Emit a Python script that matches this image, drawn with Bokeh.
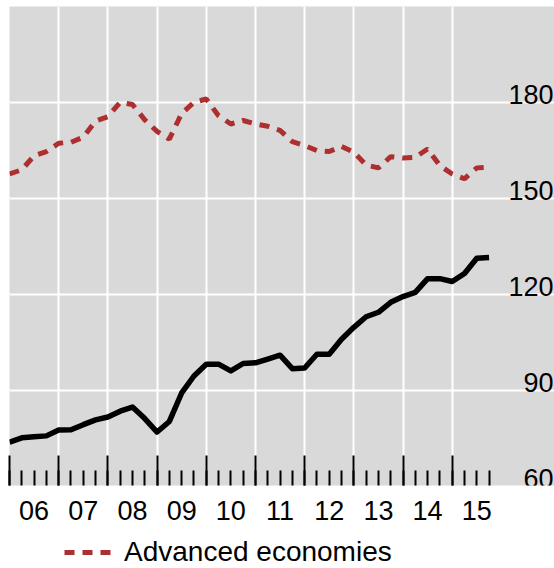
from bokeh.plotting import figure
from bokeh.layouts import column
from bokeh.models import FixedTicker, LinearAxis, Grid, Legend, LegendItem
from bokeh.embed import file_html
from bokeh.resources import INLINE
from bokeh.core.properties import value

# ---- data ----
years = [2006, 2007, 2008, 2009, 2010, 2011, 2012, 2013, 2014, 2015]
year_labels = ["06", "07", "08", "09", "10", "11", "12", "13", "14", "15"]
quarter_offsets = [0.0, 0.25, 0.5, 0.75]
dates = [y + q for y in years for q in quarter_offsets]

emerging = [73.8, 75.2, 75.5, 75.8,
            77.6, 77.7, 79.3, 80.8,
            81.7, 83.5, 84.8, 81.2,
            77.0, 80.3, 89.2, 94.5,
            98.2, 98.2, 96.1, 98.4,
            98.6, 99.8, 101.0, 96.8,
            97.0, 101.3, 101.3, 106.0,
            109.7, 113.0, 114.4, 117.5,
            119.3, 120.6, 124.9, 124.9,
            124.0, 126.5, 131.3, 131.5]

advanced = [157.6, 158.9, 163.3, 164.6,
            167.2, 167.5, 169.1, 174.1,
            175.5, 180.0, 179.3, 174.5,
            170.9, 168.5, 176.5, 180.0,
            181.0, 175.8, 173.2, 174.3,
            173.2, 172.5, 171.2, 167.7,
            166.5, 164.9, 164.6, 166.2,
            164.4, 160.4, 159.5, 163.0,
            162.6, 162.8, 165.4, 160.2,
            157.6, 156.1, 159.5, 159.7]

y_ticks = [60, 90, 120, 150, 180]
y_tick_labels = ["60", "90", "120", "150", "180"]
legend_label = "Advanced economies"

# ---- layout ----
X_START, X_END = 2006.0, 2017.08
Y_START, Y_END = 60.3, 209.9
FONT = "Liberation Sans"
RED = "#AE2F2F"
GRAY = "#D9D9D9"
RED_STYLE = dict(line_color=RED, line_width=5, line_dash="10 8")

p = figure(frame_width=545, frame_height=479,
           x_range=(X_START, X_END), y_range=(Y_START, Y_END),
           output_backend="svg", toolbar_location=None,
           x_axis_location=None, y_axis_location=None,
           min_border_left=9, min_border_right=0, min_border_top=6,
           min_border_bottom=50,
           background_fill_color=GRAY, border_fill_color="white",
           outline_line_color=None)
p.grid.grid_line_color = None  # drop default grids

# grids
xgrid = Grid(dimension=0, ticker=FixedTicker(ticks=years[1:]),
             grid_line_color="white", grid_line_width=2)
ygrid = Grid(dimension=1, ticker=FixedTicker(ticks=y_ticks[1:]),
             grid_line_color="white", grid_line_width=2)
p.add_layout(xgrid)
p.add_layout(ygrid)

# tick axis (ticks drawn inside the frame, no labels)
tick_axis = LinearAxis(ticker=FixedTicker(ticks=years, minor_ticks=dates),
                       major_tick_in=30, major_tick_out=0,
                       minor_tick_in=15, minor_tick_out=0,
                       major_tick_line_color="black", minor_tick_line_color="black",
                       major_tick_line_width=2, minor_tick_line_width=2,
                       axis_line_color=None,
                       major_label_text_color=None,
                       major_label_text_font_size="1px", major_label_standoff=0)
p.add_layout(tick_axis, "below")

# label axis (year labels centred in each year)
mid_years = [y + 0.5 for y in years]
label_axis = LinearAxis(ticker=FixedTicker(ticks=mid_years, minor_ticks=[]),
                        major_label_overrides={m: lab for m, lab in zip(mid_years, year_labels)},
                        major_tick_in=0, major_tick_out=0,
                        minor_tick_in=0, minor_tick_out=0,
                        axis_line_color=None,
                        major_label_text_font=FONT,
                        major_label_text_font_size="27px",
                        major_label_text_color="black",
                        major_label_standoff=15)
p.add_layout(label_axis, "below")

# series
p.line(dates, emerging, line_color="black", line_width=5.5, line_join="round")
p.line(dates, advanced, **RED_STYLE)

# value labels at the right, above the gridlines
p.text(x=[X_END] * len(y_ticks), y=y_ticks, text=y_tick_labels,
       text_align="right", text_baseline="alphabetic",
       x_offset=-1, y_offset=-8,
       text_font=value(FONT), text_font_size="27px", text_color="black")

# legend strip below the chart (series drawn out of view, only its key shows)
lf = figure(width=554, height=33, x_range=(0, 1), y_range=(0, 1),
            output_backend="svg", toolbar_location=None,
            x_axis_location=None, y_axis_location=None,
            min_border=0, outline_line_color=None,
            background_fill_color="white", border_fill_color="white")
lf.grid.grid_line_color = None
proxy = lf.line(dates, advanced, **RED_STYLE)
legend = Legend(items=[LegendItem(label=legend_label, renderers=[proxy])],
                location=(55, 0), padding=0, margin=0, spacing=0,
                glyph_width=48, glyph_height=20, label_standoff=12,
                label_text_font=FONT, label_text_font_size="28px",
                label_text_color="black",
                border_line_color=None, background_fill_alpha=0)
lf.add_layout(legend)

layout = column(p, lf, spacing=0)
open("out.html", "w").write(file_html(layout, INLINE))
